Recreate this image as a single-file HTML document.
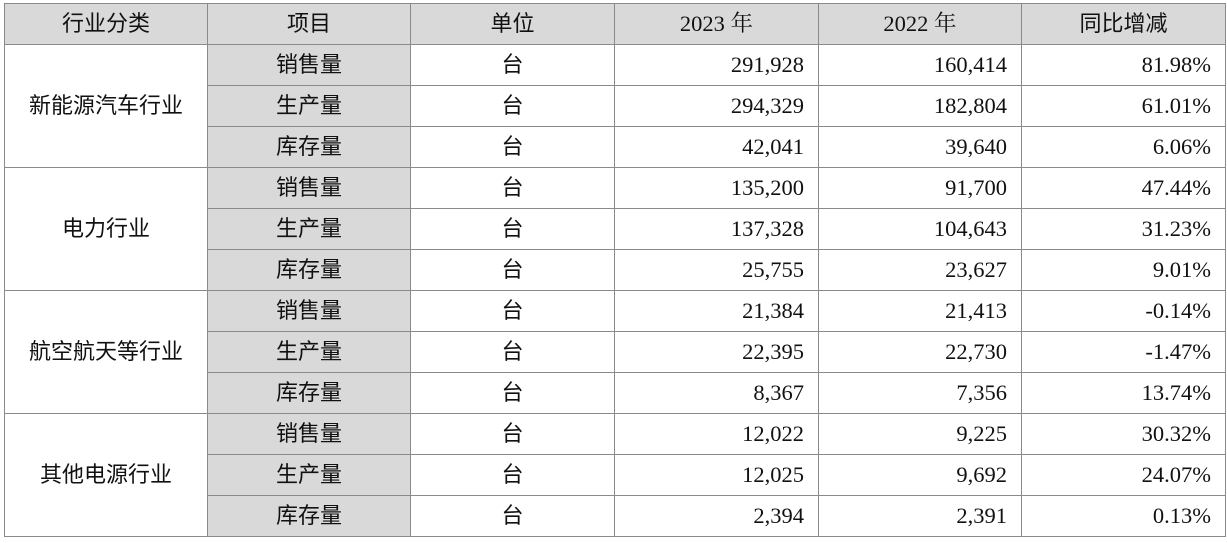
<!DOCTYPE html>
<html><head><meta charset="utf-8"><style>
body{margin:0;background:#fff;width:1227px;height:543px;overflow:hidden}
table{position:absolute;left:4px;top:3px;border-collapse:collapse;table-layout:fixed;width:1221px;font-family:"Liberation Serif","Noto Serif CJK SC",serif;font-size:22.5px;color:#111}
td{border:1.5px solid #8a8a8a;height:40px;padding:0;text-align:center;line-height:22px}
td.h{background:#d9d9d9}
td.g{background:#d9d9d9}
td.r{text-align:right;padding-right:14px}
td.c{font-family:"Liberation Sans","Noto Sans CJK SC",sans-serif;font-size:22px}
</style></head><body>
<table>
<colgroup><col style="width:203px"><col style="width:203px"><col style="width:204px"><col style="width:204px"><col style="width:203px"><col style="width:204px"></colgroup>
<tr><td class="h c">行业分类</td><td class="h c">项目</td><td class="h c">单位</td><td class="h">2023 年</td><td class="h">2022 年</td><td class="h c">同比增减</td></tr>
<tr><td rowspan="3" class="c">新能源汽车行业</td><td class="g c">销售量</td><td class="c">台</td><td class="r">291,928</td><td class="r">160,414</td><td class="r">81.98%</td></tr>
<tr><td class="g c">生产量</td><td class="c">台</td><td class="r">294,329</td><td class="r">182,804</td><td class="r">61.01%</td></tr>
<tr><td class="g c">库存量</td><td class="c">台</td><td class="r">42,041</td><td class="r">39,640</td><td class="r">6.06%</td></tr>
<tr><td rowspan="3" class="c">电力行业</td><td class="g c">销售量</td><td class="c">台</td><td class="r">135,200</td><td class="r">91,700</td><td class="r">47.44%</td></tr>
<tr><td class="g c">生产量</td><td class="c">台</td><td class="r">137,328</td><td class="r">104,643</td><td class="r">31.23%</td></tr>
<tr><td class="g c">库存量</td><td class="c">台</td><td class="r">25,755</td><td class="r">23,627</td><td class="r">9.01%</td></tr>
<tr><td rowspan="3" class="c">航空航天等行业</td><td class="g c">销售量</td><td class="c">台</td><td class="r">21,384</td><td class="r">21,413</td><td class="r">-0.14%</td></tr>
<tr><td class="g c">生产量</td><td class="c">台</td><td class="r">22,395</td><td class="r">22,730</td><td class="r">-1.47%</td></tr>
<tr><td class="g c">库存量</td><td class="c">台</td><td class="r">8,367</td><td class="r">7,356</td><td class="r">13.74%</td></tr>
<tr><td rowspan="3" class="c">其他电源行业</td><td class="g c">销售量</td><td class="c">台</td><td class="r">12,022</td><td class="r">9,225</td><td class="r">30.32%</td></tr>
<tr><td class="g c">生产量</td><td class="c">台</td><td class="r">12,025</td><td class="r">9,692</td><td class="r">24.07%</td></tr>
<tr><td class="g c">库存量</td><td class="c">台</td><td class="r">2,394</td><td class="r">2,391</td><td class="r">0.13%</td></tr>
</table>
</body></html>
